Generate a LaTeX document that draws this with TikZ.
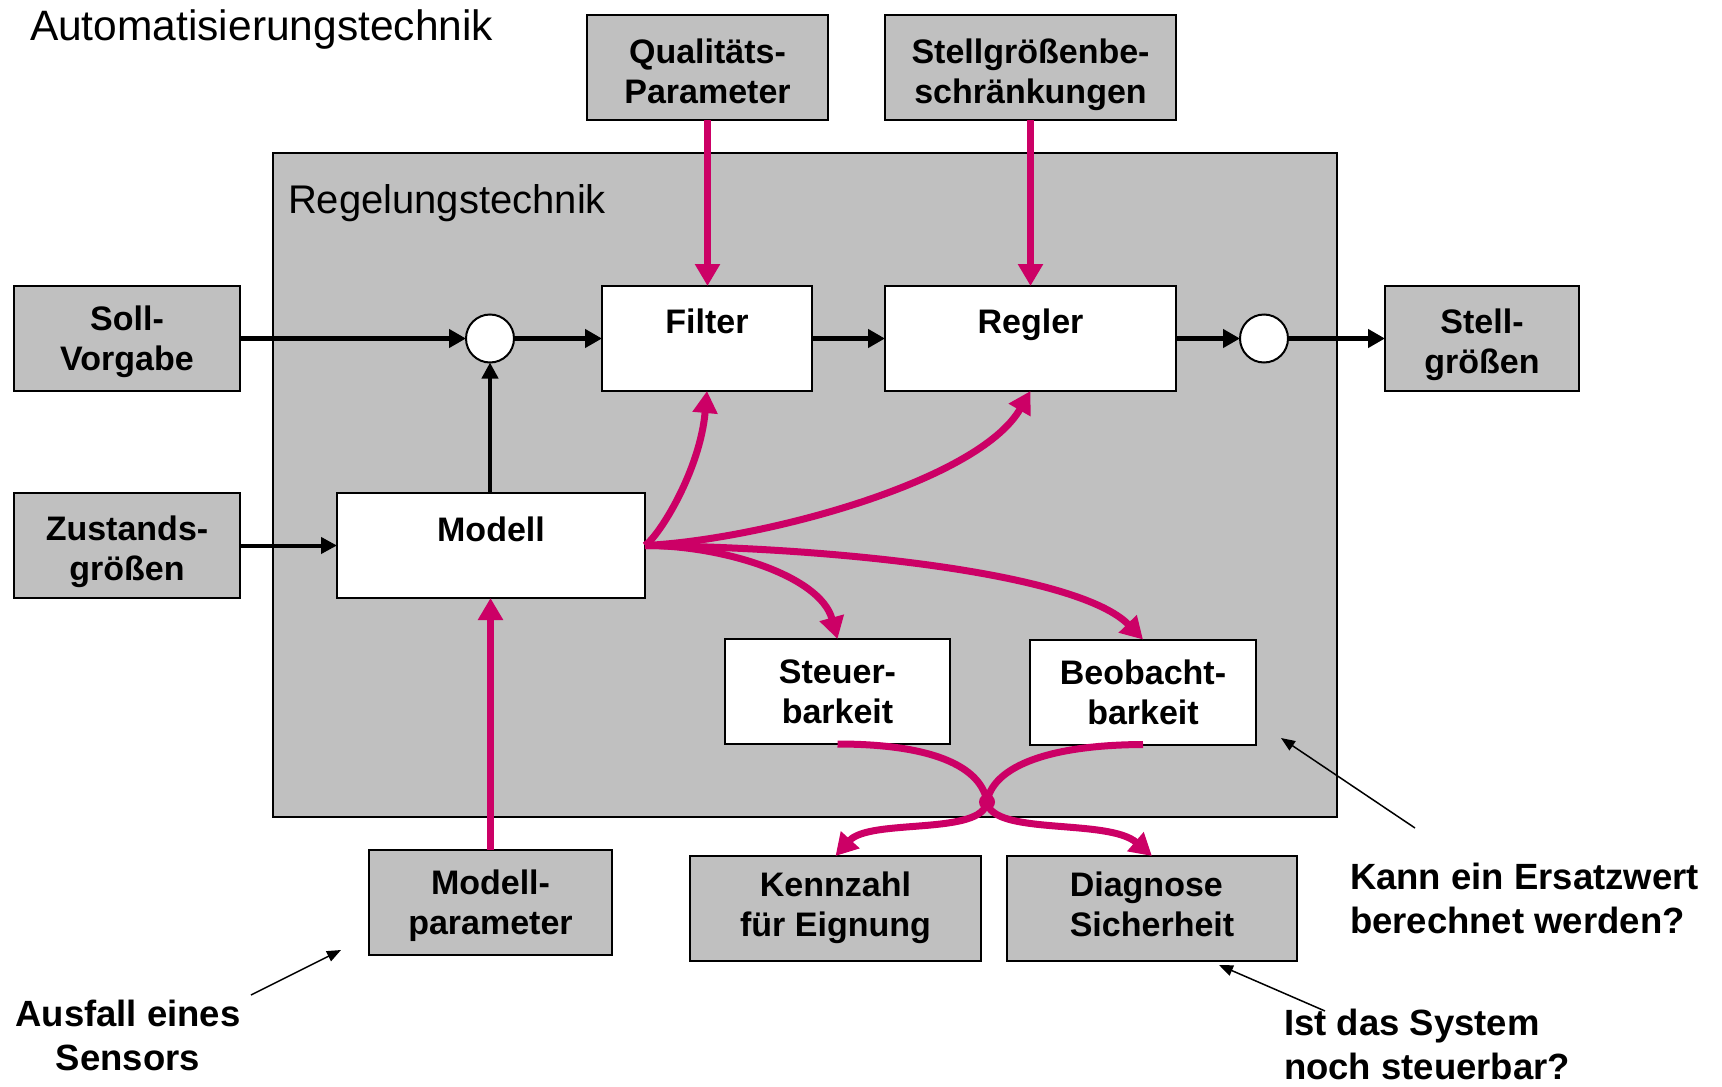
\documentclass[tikz,border=0pt]{standalone}
\usepackage{fontspec}
\setmainfont{Liberation Sans}
\usetikzlibrary{arrows.meta}
\definecolor{boxgray}{RGB}{192,192,192}
\definecolor{signalpink}{RGB}{204,0,102}
\begin{document}
\begin{tikzpicture}[x=1pt,y=-1pt,
  every node/.style={inner sep=0pt, outer sep=0pt},
  blk/.style={draw=black, line width=2pt, minimum height=105pt},
  twoline/.style={align=center, text height=70pt, text depth=6pt,
    font=\bfseries\fontsize{34}{40}\selectfont},
  graybox/.style={blk, fill=boxgray, twoline},
  whitebox/.style={blk, fill=white},
  boxlabel/.style={anchor=base, font=\bfseries\fontsize{34}{40}\selectfont},
  junction/.style={circle, draw=black, line width=2pt, fill=white, minimum size=48pt},
  flow/.style={line width=5pt, -{Triangle[length=17pt,width=18pt]}},
  thinflow/.style={line width=4pt, -{Triangle[length=16pt,width=16pt]}},
  info/.style={draw=signalpink, line width=7pt, -{Triangle[length=22pt,width=24pt]}},
  note/.style={font=\bfseries\fontsize{36.5}{44}\selectfont},
  pointer/.style={line width=1.5pt, -{Triangle[length=14pt,width=11pt]}},
]
\useasboundingbox (0,0) rectangle (1722,1087);
\fill[white] (0,0) rectangle (1722,1087);

% headings
\node[anchor=base west, font=\fontsize{42.5}{50}\selectfont] (title) at (30,40) {Automatisierungstechnik};

% control engineering frame
\node[draw=black, line width=2pt, fill=boxgray, minimum width=1064pt, minimum height=664pt] (rt) at (805,485) {};
\node[anchor=base west, font=\fontsize{40}{48}\selectfont] (rtlabel) at (288,213) {Regelungstechnik};

% external blocks
\node[graybox, text height=78pt, minimum width=241pt] (qual) at (707.5,67.5) {Qualitäts-\\Parameter};
\node[graybox, text height=78pt, minimum width=291pt] (stellb) at (1030.5,67.5) {Stellgrößenbe-\\schränkungen};
\node[graybox, minimum width=226pt] (soll) at (127,338.5) {Soll-\\Vorgabe};
\node[graybox, text height=76.5pt, minimum width=194pt] (stell) at (1482,338.5) {Stell-\\größen};
\node[graybox, text height=76.5pt, minimum width=226pt] (zust) at (127,545.5) {Zustands-\\größen};
\node[graybox, minimum width=243pt] (mpar) at (490.5,902.5) {Modell-\\parameter};
\node[graybox, text depth=15pt, minimum width=291pt] (kenn) at (835.5,908.5) {Kennzahl\\für Eignung};
\node[graybox, text depth=15pt, minimum width=290pt, align=left] (diag) at (1152,908.5) {Diagnose\\Sicherheit};

% internal blocks
\node[whitebox, minimum width=210pt] (filter) at (707,338.5) {};
\node[boxlabel] (filterlbl) at ([yshift=-47pt]filter.north) {Filter};
\node[whitebox, minimum width=291pt] (regler) at (1030.5,338.5) {};
\node[boxlabel] (reglerlbl) at ([yshift=-47pt]regler.north) {Regler};
\node[whitebox, minimum width=308pt] (modell) at (491,545.5) {};
\node[boxlabel] (modelllbl) at ([yshift=-48pt]modell.north) {Modell};
\node[whitebox, twoline, minimum width=225pt] (steuer) at (837.5,691.5) {Steuer-\\barkeit};
\node[whitebox, twoline, minimum width=226pt] (beob) at (1143,692) {Beobacht-\\barkeit};

\node[junction] (sum1) at (490,338.5) {};
\node[junction] (sum2) at (1264,338.5) {};

% signal path
\draw[flow] (soll.east) -- (sum1.west);
\draw[flow] (sum1.east) -- (filter.west);
\draw[flow] (filter.east) -- (regler.west);
\draw[flow] (regler.east) -- (sum2.west);
\draw[flow] (sum2.east) -- (stell.west);
\draw[thinflow] (sum1.south |- modell.north) -- (sum1.south);
\draw[thinflow] (zust.east) -- (modell.west);

% parameter inputs
\draw[info] (qual.south) -- (qual.south |- filter.north);
\draw[info] (stellb.south) -- (stellb.south |- regler.north);
\draw[info] (mpar.north) -- (mpar.north |- modell.south);

% model outputs
\draw[info] (modell.east) .. controls (660,535) and (700,470) .. (filter.south);
\draw[info] (modell.east) .. controls (760,540) and (978,482) .. (regler.south);
\draw[info] (modell.east) .. controls (720,545) and (820,575) .. (steuer.north);
\draw[info] (modell.east) .. controls (850,548) and (1080,575) .. (beob.north);

% crossing outputs
\node[circle, fill=signalpink, minimum size=16pt] (cross) at (987,802) {};
\draw[info] (steuer.south) .. controls (940,744) and (982,770) .. (cross.center)
  .. controls (992,836) and (1108,818) .. (diag.north);
\draw[info] (beob.south) .. controls (1040,745) and (992,770) .. (cross.center)
  .. controls (982,836) and (870,818) .. (kenn.north);

% annotations (anchored at the baseline of the last line)
\node[note, align=center, anchor=base] (ausfall) at (128,1070) {Ausfall eines\\Sensors};
\node[note, align=left, anchor=base west] (kann) at (1350,933) {Kann ein Ersatzwert\\berechnet werden?};
\node[note, align=left, anchor=base west] (ist) at (1284,1079) {Ist das System\\noch steuerbar?};

\coordinate (ausfallTail) at (251,995);
\coordinate (ausfallTip) at (341,950);
\coordinate (kannTail) at (1415,828);
\coordinate (kannTip) at (1281,738);
\coordinate (istTail) at (1325,1011);
\coordinate (istTip) at (1219,965);
\draw[pointer] (ausfallTail) -- (ausfallTip);
\draw[pointer] (kannTail) -- (kannTip);
\draw[pointer] (istTail) -- (istTip);
\end{tikzpicture}
\end{document}
